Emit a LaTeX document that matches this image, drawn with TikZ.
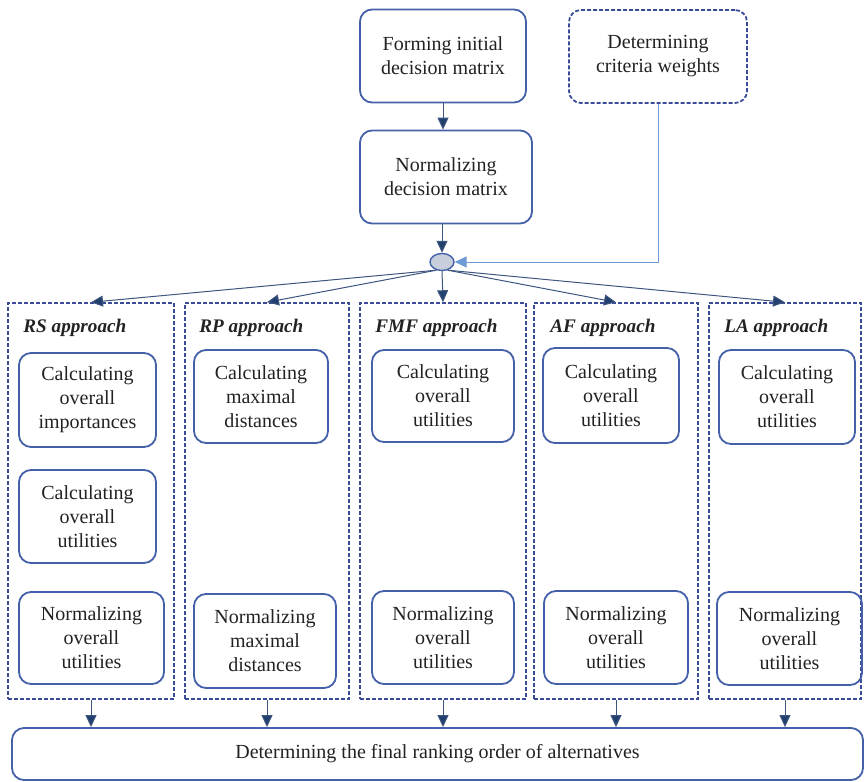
\documentclass[tikz,border=0pt]{standalone}
\usepackage{fontspec}
\setmainfont{Liberation Serif}
\usetikzlibrary{arrows.meta,shapes.geometric}
\definecolor{boxc}{HTML}{4360A8}
\definecolor{colc}{HTML}{3A4C98}
\definecolor{arrc}{HTML}{3E5580}
\definecolor{tipc}{HTML}{22406E}
\definecolor{wc}{HTML}{6E9BD8}
\definecolor{txtc}{HTML}{222222}
\definecolor{ellf}{HTML}{C9CEDC}
\begin{document}
\begin{tikzpicture}[x=0.5pt,y=-0.5pt,
  font=\fontsize{10}{12}\selectfont, text=txtc,
  box/.style={draw=boxc, line width=0.9pt, rounded corners=6pt, align=center, inner sep=0pt},
  wbox/.style={box, draw=colc, dash pattern=on 2pt off 1pt},
  col/.style={draw=colc, line width=0.75pt, dash pattern=on 2pt off 1pt, inner sep=0pt},
  ttl/.style={anchor=west, inner sep=0pt, font=\fontsize{9.6}{12}\selectfont\bfseries\itshape},
  arr/.style={draw=arrc, line width=0.5pt, -{Triangle[length=6pt,width=5.5pt,fill=tipc]}},
  warr/.style={draw=wc, line width=0.5pt, -{Triangle[length=6pt,width=5.5pt,fill=wc]}}]
\useasboundingbox (0,0) rectangle (864,782);
% top
\node[box, minimum width=83pt, minimum height=46.5pt] (f1) at (443,56) {Forming initial\\decision matrix};
\node[wbox, minimum width=89pt, minimum height=46.5pt] (w) at (658,56.5) {Determining\\criteria weights};
\node[box, minimum width=86pt, minimum height=46.5pt] (n1) at (446,177) {Normalizing\\decision matrix};
\node[ellipse, draw=boxc, line width=0.7pt, fill=ellf, minimum width=12pt, minimum height=8.5pt, inner sep=0pt] (e) at (442,262) {};
% columns
\node[col, minimum width=83pt, minimum height=198pt] (c1) at (91,501) {};
\node[col, minimum width=82pt, minimum height=198pt] (c2) at (267,501) {};
\node[col, minimum width=83pt, minimum height=198pt] (c3) at (443,501) {};
\node[col, minimum width=82pt, minimum height=198pt] (c4) at (616,501) {};
\node[col, minimum width=76pt, minimum height=198pt] (c5) at (785,501) {};
% titles
\node[ttl] (t1) at (23,328) {RS approach};
\node[ttl] (t2) at (199,328) {RP approach};
\node[ttl] (t3) at (375,328) {FMF approach};
\node[ttl] (t4) at (550,328) {AF approach};
\node[ttl] (t5) at (724,328) {LA approach};
% inner boxes
\node[box, minimum width=68.5pt, minimum height=47pt] (rs1) at (87.5,400) {Calculating\\overall\\importances};
\node[box, minimum width=68.5pt, minimum height=46.5pt] (rs2) at (87.5,516.5) {Calculating\\overall\\utilities};
\node[box, minimum width=72.5pt, minimum height=46pt] (rs3) at (91.5,638) {Normalizing\\overall\\utilities};
\node[box, minimum width=67pt, minimum height=46.5pt] (rp1) at (261,396.5) {Calculating\\maximal\\distances};
\node[box, minimum width=71pt, minimum height=47pt] (rp2) at (265,641) {Normalizing\\maximal\\distances};
\node[box, minimum width=71pt, minimum height=46pt] (fm1) at (443,396) {Calculating\\overall\\utilities};
\node[box, minimum width=71pt, minimum height=46.5pt] (fm2) at (443,637.5) {Normalizing\\overall\\utilities};
\node[box, minimum width=68pt, minimum height=47.5pt] (af1) at (611,395.5) {Calculating\\overall\\utilities};
\node[box, minimum width=72pt, minimum height=46.5pt] (af2) at (616,637.5) {Normalizing\\overall\\utilities};
\node[box, minimum width=68pt, minimum height=47pt] (la1) at (787,397) {Calculating\\overall\\utilities};
\node[box, minimum width=72.5pt, minimum height=46.5pt] (la2) at (789.5,638.5) {Normalizing\\overall\\utilities};
% bottom
\node[box, minimum width=425.5pt, minimum height=26pt] (bt) at (437.5,754) {Determining the final ranking order of alternatives};
% connectors
\draw[arr] (f1.south) -- (f1.south |- n1.north);
\draw[arr] (n1.south -| e) -- (e.north);
\draw[warr] (w.south) |- (e.east);
\foreach \c in {c1,c2} \draw[arr] (e.235) -- (\c.north);
\foreach \c in {c4,c5} \draw[arr] (e.-55) -- (\c.north);
\draw[arr] (e.south) -- (c3.north);
\foreach \c in {c1,c2,c3,c4,c5} \draw[arr] (\c.south) -- (\c.south |- bt.north);
\end{tikzpicture}
\end{document}
